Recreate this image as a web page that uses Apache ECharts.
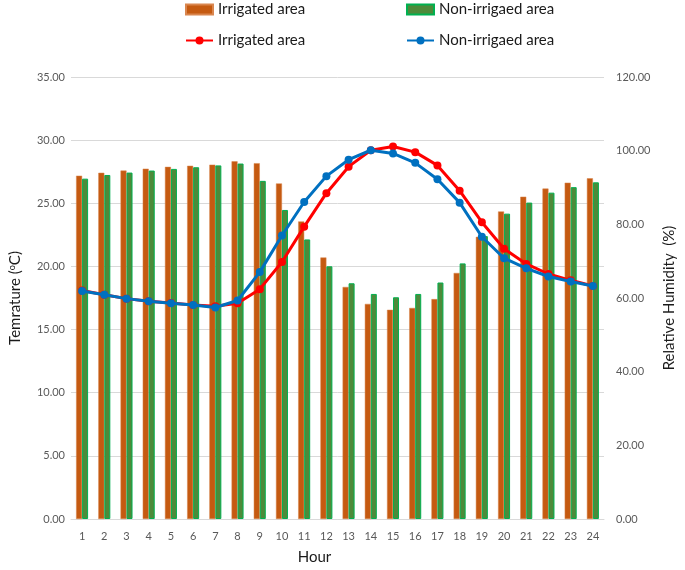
<!DOCTYPE html>
<html>
<head>
<meta charset="utf-8">
<script src="https://cdn.jsdelivr.net/npm/echarts@6/dist/echarts.min.js"></script>
<style>
html,body{margin:0;padding:0;background:#fff;}
#chart{width:685px;height:570px;}
</style>
</head>
<body>
<div id="chart"></div>
<script>
const hours = ['1','2','3','4','5','6','7','8','9','10','11','12','13','14','15','16','17','18','19','20','21','22','23','24'];
// Relative humidity (%) – bars, right axis
const rhIrrigated = [93.2, 94.0, 94.6, 95.1, 95.6, 95.9, 96.2, 97.1, 96.6, 91.1, 80.8, 71.0, 63.0, 58.4, 56.8, 57.3, 59.7, 66.8, 76.6, 83.5, 87.5, 89.7, 91.3, 92.5];
const rhNonIrrigated = [92.4, 93.4, 94.05, 94.6, 95.05, 95.5, 96.0, 96.5, 91.8, 83.9, 75.9, 68.6, 64.0, 61.1, 60.2, 61.1, 64.2, 69.4, 76.8, 82.9, 85.9, 88.6, 90.1, 91.4];
// Temperature (°C) – lines, left axis
const tIrrigated = [18.1, 17.75, 17.45, 17.25, 17.1, 16.95, 16.85, 17.08, 18.2, 20.35, 23.15, 25.8, 27.9, 29.2, 29.5, 29.05, 28.0, 26.0, 23.5, 21.4, 20.2, 19.4, 18.9, 18.45];
const tNonIrrigated = [18.05, 17.75, 17.45, 17.25, 17.08, 16.95, 16.75, 17.3, 19.55, 22.45, 25.1, 27.15, 28.45, 29.2, 28.95, 28.2, 26.9, 25.05, 22.35, 20.65, 19.85, 19.2, 18.8, 18.45];
const seriesLabels = {
  barIrr: 'Irrigated area',
  barNon: 'Non-irrigaed area',
  lineIrr: 'Irrigated area',
  lineNon: 'Non-irrigaed area'
};

const FONT = 'Lato';
const chart = echarts.init(document.getElementById('chart'), null, {renderer: 'canvas'});
const legendBase = (name, left, top, icon) => {
  const l = {
    data: [name], left: left, top: top,
    itemWidth: 27, itemHeight: 10, padding: 0,
    formatter: n => seriesLabels[n],
    textStyle: {fontFamily: FONT, fontSize: 15, color: '#1a1a1a'},
    selectedMode: false
  };
  if (icon) l.icon = icon;
  return l;
};

chart.setOption({
  animation: false,
  backgroundColor: '#fff',
  textStyle: {fontFamily: FONT},
  legend: [
    legendBase('barIrr', 185, 2, 'rect'),
    legendBase('barNon', 406, 2, 'rect'),
    legendBase('lineIrr', 185, 33),
    legendBase('lineNon', 406, 33)
  ],
  grid: {left: 60, right: 69, top: 77, bottom: 49, containLabel: false},
  xAxis: {
    type: 'category', data: hours,
    name: 'Hour', nameLocation: 'middle', nameGap: 31,
    nameTextStyle: {fontFamily: FONT, fontSize: 15, color: '#1a1a1a', padding: [0, 46, 0, 0]},
    axisLine: {lineStyle: {color: '#D9D9D9', width: 1}},
    axisTick: {show: false},
    axisLabel: {fontFamily: FONT, fontSize: 11, color: '#595959', margin: 12}
  },
  yAxis: [
    {
      type: 'value', min: 0, max: 35, interval: 5,
      name: 'Temrature ({sup|o}C)', nameLocation: 'middle', nameGap: 48,
      nameTextStyle: {fontFamily: FONT, fontSize: 15, color: '#1a1a1a',
        rich: {sup: {fontFamily: FONT, fontSize: 9, verticalAlign: 'top', color: '#1a1a1a', padding: [0, 0, 6, 0]}}},
      axisLine: {show: false}, axisTick: {show: false},
      splitLine: {lineStyle: {color: '#D9D9D9', width: 1}},
      axisLabel: {fontFamily: FONT, fontSize: 11, color: '#595959', margin: 6, formatter: v => v.toFixed(2)}
    },
    {
      type: 'value', min: 0, max: 120, interval: 20, position: 'right',
      name: 'Relative Humidity  (%)', nameLocation: 'middle', nameGap: 58,
      nameTextStyle: {fontFamily: FONT, fontSize: 15, color: '#1a1a1a'},
      axisLine: {show: false}, axisTick: {show: false},
      splitLine: {show: false},
      axisLabel: {fontFamily: FONT, fontSize: 11, color: '#595959', margin: 12, formatter: v => v.toFixed(2)}
    }
  ],
  series: [
    {
      name: 'barIrr', type: 'bar', yAxisIndex: 1, data: rhIrrigated,
      barWidth: 6, barGap: '0%',
      itemStyle: {color: '#C55A11', borderColor: '#D9864F', borderWidth: 0.5},
      z: 1
    },
    {
      name: 'barNon', type: 'bar', yAxisIndex: 1, data: rhNonIrrigated,
      barWidth: 6, barGap: '0%',
      itemStyle: {color: '#4E8A3A', borderColor: '#00B050', borderWidth: 1},
      z: 1
    },
    {
      name: 'lineIrr', type: 'line', yAxisIndex: 0, data: tIrrigated,
      symbol: 'circle', symbolSize: 8,
      lineStyle: {color: '#FF0000', width: 3},
      itemStyle: {color: '#FF0000'},
      z: 3
    },
    {
      name: 'lineNon', type: 'line', yAxisIndex: 0, data: tNonIrrigated,
      symbol: 'circle', symbolSize: 8,
      lineStyle: {color: '#0070C0', width: 3},
      itemStyle: {color: '#0070C0'},
      z: 4
    }
  ]
});
</script>
</body>
</html>
